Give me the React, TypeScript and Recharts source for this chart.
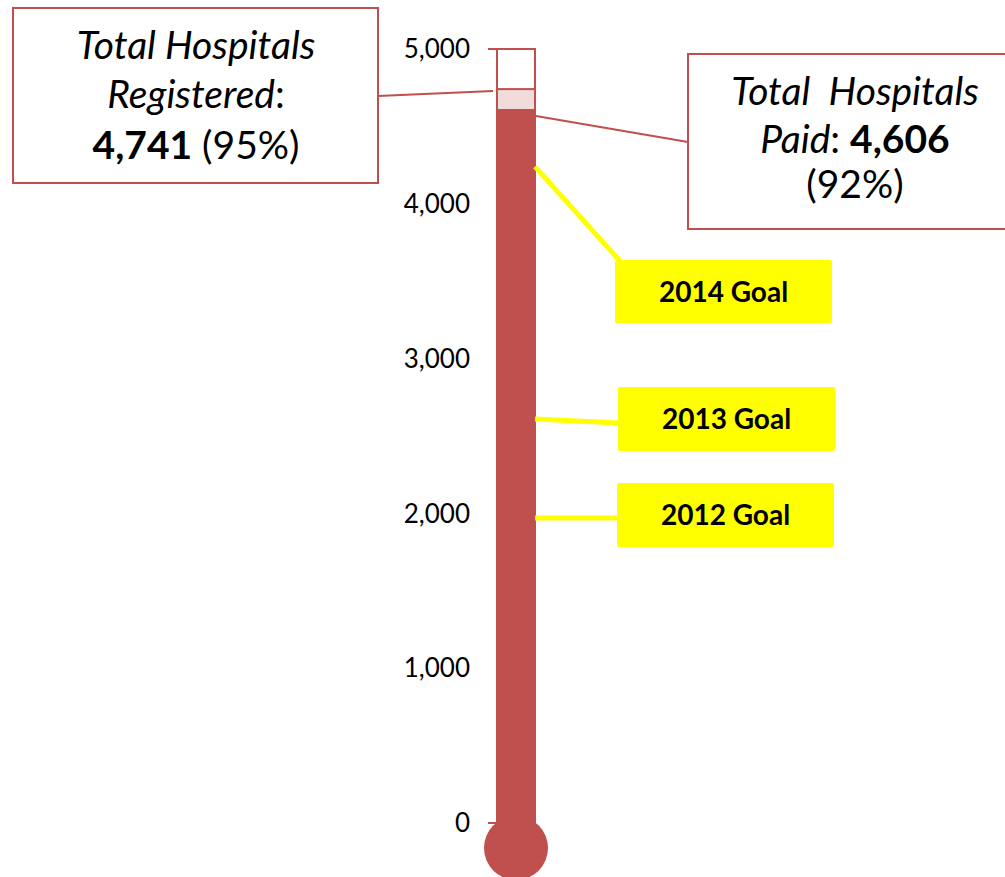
import React from 'react';
import { BarChart, Bar, XAxis, YAxis, ReferenceLine } from 'recharts';

const categories = ['Hospitals'];
const totalHospitals = [5000];
const registered = [4741];
const paid = [4606];
const yTicks = [0, 1000, 2000, 3000, 4000, 5000];
const goalLabels = ['2014 Goal', '2013 Goal', '2012 Goal'];
const goalValues = [4240, 2610, 1970];

const RED = '#C0504D';
const PINK = '#F2DCDB';
const YELLOW = '#FFFF00';
const FONT = 'Lato, "Open Sans", sans-serif';

// layout of the yellow goal boxes (pixels)
const goalBoxes = [
  { x: 615, y: 260, w: 217, h: 63, lineTo: [620, 261] },
  { x: 618, y: 387, w: 217, h: 64, lineTo: [618, 423] },
  { x: 617, y: 483, w: 217, h: 64, lineTo: [617, 518] },
];

const data = categories.map((name, i) => ({
  name,
  paid: paid[i],
  registeredOnly: registered[i] - paid[i],
  remaining: totalHospitals[i] - registered[i],
}));

const fmt = (v: number) => v.toLocaleString('en-US');
const pct = (v: number) => Math.round((v / totalHospitals[0]) * 100) + '%';

// bottom bar segment plus the thermometer bulb
const StemWithBulb = (props: any) => {
  const { x, y, width, height } = props;
  return (
    <g>
      <rect x={x} y={y} width={width} height={height} fill={RED} stroke={RED} strokeWidth={2} />
      <line x1={x - 9} y1={y + height} x2={x} y2={y + height} stroke={RED} strokeWidth={2} />
      <circle cx={x + width / 2} cy={y + height + 25} r={32} fill={RED} />
    </g>
  );
};

const TopCap = (props: any) => {
  const { x, y, width, height } = props;
  return (
    <g>
      <rect x={x} y={y} width={width} height={height} fill="#fff" stroke={RED} strokeWidth={2} />
      <line x1={x - 9} y1={y} x2={x} y2={y} stroke={RED} strokeWidth={2} />
    </g>
  );
};

const RegisteredNote = (props: any) => {
  const { x1, y1 } = props;
  return (
    <g>
      <line x1={378} y1={96} x2={x1 - 4} y2={y1 + 2} stroke={RED} strokeWidth={2} />
      <rect x={13} y={8} width={365} height={175} fill="#fff" stroke={RED} strokeWidth={2} />
      <text textAnchor="middle" fontFamily={FONT} fontSize={39} fill="#000">
        <tspan x={196} y={59} fontStyle="italic">Total Hospitals</tspan>
        <tspan x={196} y={108}>
          <tspan fontStyle="italic">Registered</tspan>:
        </tspan>
        <tspan x={196} y={159}>
          <tspan fontWeight="bold">{fmt(registered[0])}</tspan> ({pct(registered[0])})
        </tspan>
      </text>
    </g>
  );
};

const PaidNote = (props: any) => {
  const { x2, y1 } = props;
  return (
    <g>
      <line x1={x2 + 1} y1={y1 + 6} x2={688} y2={142} stroke={RED} strokeWidth={2} />
      <rect x={688} y={54} width={340} height={175} fill="#fff" stroke={RED} strokeWidth={2} />
      <text textAnchor="middle" fontFamily={FONT} fontSize={39} fill="#000">
        <tspan x={855} y={105} fontStyle="italic">{'Total\u00a0 Hospitals'}</tspan>
        <tspan x={855} y={153}>
          <tspan fontStyle="italic">Paid</tspan>: <tspan fontWeight="bold">{fmt(paid[0])}</tspan>
        </tspan>
        <tspan x={855} y={198}>({pct(paid[0])})</tspan>
      </text>
    </g>
  );
};

const makeGoal = (i: number) => (props: any) => {
  const { x2, y1 } = props;
  const b = goalBoxes[i];
  return (
    <g>
      <line x1={x2} y1={y1} x2={b.lineTo[0]} y2={b.lineTo[1]} stroke={YELLOW} strokeWidth={5} />
      <rect x={b.x} y={b.y} width={b.w} height={b.h} rx={2} fill={YELLOW} />
      <text
        x={b.x + b.w / 2}
        y={b.y + b.h / 2 + 10}
        textAnchor="middle"
        fontFamily={FONT}
        fontWeight="bold"
        fontSize={28}
        fill="#000"
      >
        {goalLabels[i]}
      </text>
    </g>
  );
};

export default function App() {
  return (
    <div style={{ position: 'absolute', left: 0, top: 0, width: 1005, height: 877, overflow: 'hidden', background: '#fff' }}>
      <BarChart
        width={1005}
        height={877}
        data={data}
        margin={{ top: 49, right: 470, bottom: 54, left: 0 }}
        barCategoryGap={0}
      >
        <XAxis dataKey="name" hide />
        <YAxis
          width={497}
          domain={[0, 5000]}
          ticks={yTicks}
          tickFormatter={fmt}
          axisLine={false}
          tickLine={false}
          tickMargin={21}
          tick={{ fill: '#000', fontSize: 26, fontFamily: FONT }}
        />
        <Bar dataKey="paid" stackId="t" fill={RED} shape={StemWithBulb} isAnimationActive={false} />
        <Bar dataKey="registeredOnly" stackId="t" fill={PINK} stroke={RED} strokeWidth={2} isAnimationActive={false} />
        <Bar dataKey="remaining" stackId="t" fill="#fff" shape={TopCap} isAnimationActive={false} />
        {goalValues.map((v, i) => (
          <ReferenceLine key={goalLabels[i]} y={v} shape={makeGoal(i)} />
        ))}
        <ReferenceLine y={registered[0]} shape={RegisteredNote} />
        <ReferenceLine y={paid[0]} shape={PaidNote} />
      </BarChart>
    </div>
  );
}
